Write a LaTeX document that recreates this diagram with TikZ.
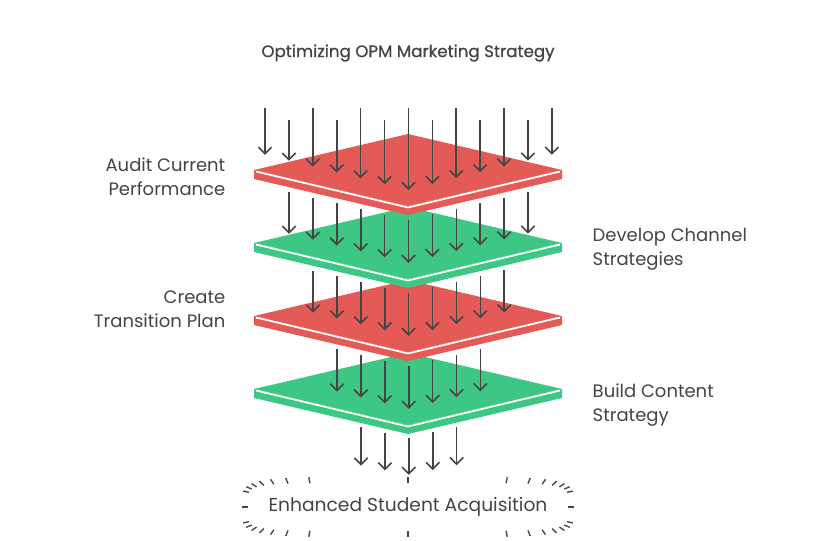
\documentclass[tikz,border=0pt]{standalone}
\usepackage{fontspec}
\setmainfont{Poppins}
\newfontfamily\titlefont{Poppins}[FakeBold=0.8]
\usetikzlibrary{arrows.meta}
\definecolor{redl}{HTML}{E35A56}
\definecolor{greenl}{HTML}{3EC784}
\definecolor{ink}{HTML}{444444}
\tikzset{
  arr/.style={draw=ink,line width=1.2pt,-{Straight Barb[length=5pt,width=10pt,line width=1.2pt]}},
  lbl/.style={text=ink,font=\fontsize{13.5}{18}\selectfont,align=#1},
  tick/.style={draw=ink,line width=1pt}
}
\newcommand\layer[2]{%
  \fill[#2] (254,#1) -- (408,#1+36) -- (562,#1) -- (562,#1+9) -- (408,#1+45) -- (254,#1+9) -- cycle;
  \fill[#2] (254,#1) -- (408,#1-36) -- (562,#1) -- (408,#1+36) -- cycle;
  \draw[white,line width=1.3pt] (256,#1+1.5) -- (408,#1+37.5) -- (560,#1+1.5);
}
\begin{document}
\begin{tikzpicture}[x=0.75pt,y=-0.75pt]
\useasboundingbox (0,0) rectangle (818,540);
\node[text=ink,font=\titlefont\fontsize{12.5}{14}\selectfont] (title) at (408,53) {Optimizing OPM Marketing Strategy};
\layer{389}{greenl}
\layer{316}{redl}
\layer{243}{greenl}
\layer{170}{redl}
% top arrows
\foreach \i in {0,...,12}{
  \pgfmathsetmacro\xx{265+23.9*\i}
  \pgfmathsetmacro\dx{abs(\xx-408)}
  \pgfmathsetmacro\ys{mod(\i,2)==0 ? 108 : 120}
  \pgfmathsetmacro\ye{190-0.245*\dx}
  \draw[arr] (\xx,\ys) -- (\xx,\ye);
}
% between layers
\foreach \c/\n/\s in {170/11/289, 243/9/313, 316/7/337}{
  \pgfmathtruncatemacro\m{\n-1}
  \foreach \i in {0,...,\m}{
    \pgfmathsetmacro\xx{\s+23.9*\i}
    \pgfmathsetmacro\dx{abs(\xx-408)}
    \pgfmathsetmacro\ys{\c+50-0.234*\dx}
    \pgfmathsetmacro\ye{\c+73+20-0.245*\dx}
    \draw[arr] (\xx,\ys) -- (\xx,\ye);
  }
}
\foreach \i in {0,...,4}{
  \pgfmathsetmacro\xx{361+23.9*\i}
  \pgfmathsetmacro\dx{abs(\xx-408)}
  \pgfmathsetmacro\ys{438-0.234*\dx}
  \pgfmathsetmacro\ye{475-0.2*\dx}
  \draw[arr] (\xx,\ys) -- (\xx,\ye);
}
% labels
\node[lbl=right,anchor=east] (a) at (230,177) {Audit Current\\Performance};
\node[lbl=left,anchor=west] (b) at (588,249) {Develop Channel\\Strategies};
\node[lbl=right,anchor=east] (c) at (230,309) {Create\\Transition Plan};
\node[lbl=left,anchor=west] (d) at (588,405) {Build Content\\Strategy};
\node[text=ink,font=\fontsize{14}{16}\selectfont] (e) at (408,507) {Enhanced Student Acquisition};
% starburst
\foreach \t in {0,11.25,...,350}{
  \pgfmathsetmacro\c{cos(\t)}
  \pgfmathsetmacro\s{sin(\t)}
  \pgfmathsetmacro\px{408+160*(\c<0?-1:1)*pow(abs(\c),0.3)}
  \pgfmathsetmacro\py{507+24*(\s<0?-1:1)*pow(abs(\s),0.3)}
  \draw[tick] (\px,\py) -- ++(6*\c,6*\s);
}
\end{tikzpicture}
\end{document}
